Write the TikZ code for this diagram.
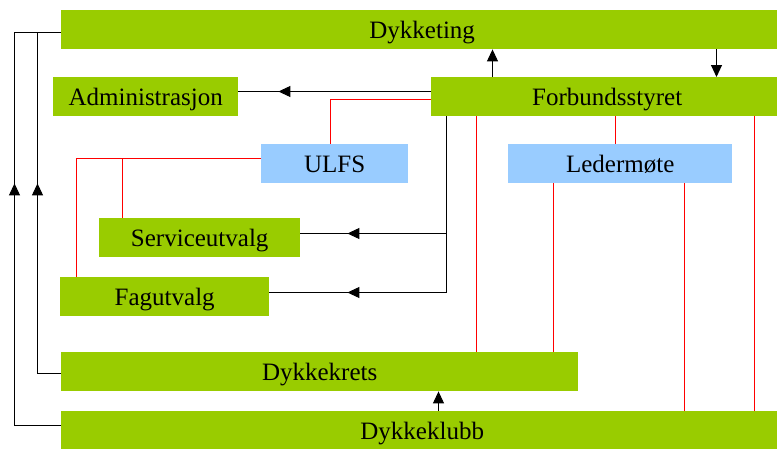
\documentclass[tikz,border=0pt]{standalone}
\usepackage{fontspec}
\setmainfont{Liberation Serif}
\usetikzlibrary{arrows.meta,calc}
\definecolor{boxgreen}{HTML}{99CC00}
\definecolor{boxblue}{HTML}{99CCFF}
\definecolor{linered}{HTML}{FF0000}
\begin{document}
\begin{tikzpicture}[x=1pt,y=-1pt,
  gbox/.style={fill=boxgreen,draw=none,inner sep=0pt,anchor=north west,minimum height=39pt,
    font=\fontsize{25}{30}\selectfont,text height=22pt,text depth=4pt},
  bbox/.style={gbox,fill=boxblue},
  bl/.style={draw=black,line width=1pt},
  rl/.style={draw=linered,line width=1pt},
  arr/.style={bl,-{Triangle[length=12pt,width=11pt]}}]
\useasboundingbox (0,0) rectangle (777,448);
% boxes
\node[gbox,minimum width=722pt] (dt) at (61,10) {Dykketing};
\node[gbox,minimum width=185pt] (adm) at (53,77) {Administrasjon};
\node[gbox,minimum width=352pt] (fs) at (431,77) {Forbundsstyret};
\node[bbox,minimum width=147pt] (ulfs) at (261,144) {ULFS};
\node[bbox,minimum width=224pt] (led) at (508,144) {Ledermøte};
\node[gbox,minimum width=201pt] (serv) at (99,218) {Serviceutvalg};
\node[gbox,minimum width=209pt] (fag) at (60,277) {Fagutvalg};
\node[gbox,minimum width=517pt] (krets) at (61,352) {Dykkekrets};
\node[gbox,minimum width=722pt] (klubb) at (61,411) {Dykkeklubb};
% helper coordinates
\coordinate (o) at (14.5,0);
\coordinate (i) at (37.5,0);
% Forbundsstyret <-> Dykketing
\draw[arr] ($(fs.north west)+(61.5,0)$) coordinate (u1) -- (u1 |- dt.south);
\draw[arr] ($(dt.south west)+(655.5,0)$) coordinate (d1) -- (d1 |- fs.north);
% Forbundsstyret -> Administrasjon
\draw[bl] ($(fs.north west)+(0,14.5)$) coordinate (a1) -- (a1 -| adm.east) coordinate (a2);
\draw[arr] (a1) -- ($(a2)+(40,0)$);
% Forbundsstyret - ULFS (red)
\draw[rl] ($(fs.north west)+(0,22.5)$) coordinate (r1) -| ($(ulfs.north west)+(69.5,0)$);
% Forbundsstyret -> Serviceutvalg, Fagutvalg
\coordinate (s1) at ($(serv.north east)+(0,15.5)$);
\coordinate (f1) at ($(fag.north east)+(0,15.5)$);
\draw[bl] ($(fs.south west)+(15.5,0)$) coordinate (b1) -- (b1 |- f1) -- (f1);
\draw[bl] (b1 |- s1) -- (s1);
\draw[arr] (b1 |- s1) -- ($(s1)+(47,0)$);
\draw[arr] (b1 |- f1) -- ($(f1)+(78,0)$);
% red lines from Forbundsstyret
\draw[rl] ($(fs.south west)+(45.5,0)$) coordinate (r2) -- (r2 |- krets.north);
\draw[rl] ($(fs.south west)+(184.5,0)$) coordinate (r3) -- (r3 |- led.north);
\draw[rl] ($(fs.south west)+(323.5,0)$) coordinate (r4) -- (r4 |- klubb.north);
% red lines from Ledermote
\draw[rl] ($(led.south west)+(45.5,0)$) coordinate (l1) -- (l1 |- krets.north);
\draw[rl] ($(led.south west)+(176.5,0)$) coordinate (l2) -- (l2 |- klubb.north);
% red lines from ULFS
\coordinate (u2) at ($(ulfs.north west)+(0,14.5)$);
\coordinate (f2) at ($(fag.north west)+(16.5,0)$);
\coordinate (s2) at ($(serv.north west)+(23.5,0)$);
\draw[rl] (u2) -- (u2 -| f2) -- (f2);
\draw[rl] (s2) -- (s2 |- u2);
% left feedback lines
\coordinate (t1) at ($(dt.north west)+(0,22.5)$);
\draw[bl] ($(klubb.north west)+(0,14.5)$) coordinate (k1) -- (k1 -| o) -- (o |- t1) -- (t1);
\draw[arr] (k1 -| o) -- (o |- ulfs.south);
\draw[bl] ($(krets.north west)+(0,21.5)$) coordinate (k2) -- (k2 -| i) -- (i |- t1) -- (t1);
\draw[arr] (k2 -| i) -- (i |- ulfs.south);
% Dykkeklubb -> Dykkekrets
\draw[arr] ($(klubb.north west)+(377.5,0)$) coordinate (kk) -- (kk |- krets.south);
\end{tikzpicture}
\end{document}
